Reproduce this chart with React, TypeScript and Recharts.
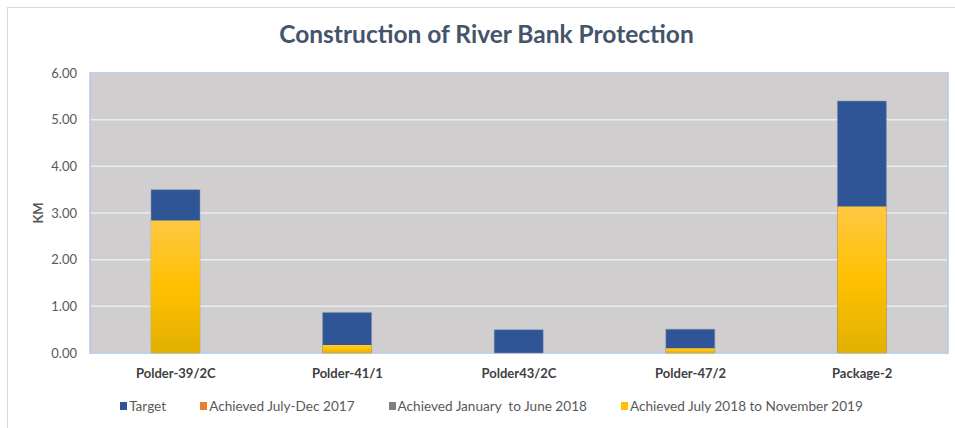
import { BarChart, Bar, XAxis, YAxis, CartesianGrid, Legend, ReferenceArea } from 'recharts';

const categories = ['Polder-39/2C', 'Polder-41/1', 'Polder43/2C', 'Polder-47/2', 'Package-2'];
const target = [3.5, 0.87, 0.5, 0.51, 5.4];
const achievedJulDec2017 = [0, 0, 0, 0, 0];
const achievedJanJun2018 = [0, 0, 0, 0, 0];
const achievedJul2018Nov2019 = [2.84, 0.17, 0, 0.1, 3.14];
const yTicks = [0, 1, 2, 3, 4, 5, 6];

const SERIES = [
  { key: 'target', name: 'Target', color: '#2f5597', fill: '#2f5597' },
  { key: 'a2017', name: 'Achieved July-Dec 2017', color: '#ed7d31', fill: '#ed7d31' },
  { key: 'a2018', name: 'Achieved January  to June 2018', color: '#7f7f7f', fill: '#7f7f7f' },
  { key: 'a2019', name: 'Achieved July 2018 to November 2019', color: '#ffc000', fill: 'url(#yellowGrad)' },
];

const data = categories.map((name, i) => ({
  name,
  target: target[i],
  a2017: achievedJulDec2017[i],
  a2018: achievedJanJun2018[i],
  a2019: achievedJul2018Nov2019[i],
}));

const FONT = 'Lato, "Open Sans", sans-serif';

function LegendContent() {
  return (
    <div style={{ display: 'flex', justifyContent: 'center', gap: 34, fontFamily: FONT, fontSize: 13.6, color: '#595959' }}>
      {SERIES.map((s) => (
        <div key={s.key} style={{ display: 'flex', alignItems: 'center', whiteSpace: 'pre' }}>
          <span style={{ display: 'inline-block', width: 7, height: 8, background: s.color, marginRight: 2 }} />
          {s.name}
        </div>
      ))}
    </div>
  );
}

export default function App() {
  return (
    <div style={{ position: 'absolute', left: 0, top: 0, width: 955, height: 428, background: '#fff', overflow: 'hidden' }}>
      <div style={{ position: 'absolute', left: 7, top: 7, width: 980, height: 440, border: '1px solid #d9d9d9' }} />
      <div
        style={{
          position: 'absolute',
          left: 0,
          top: 19,
          width: 973,
          textAlign: 'center',
          fontFamily: FONT,
          fontWeight: 700,
          fontSize: 24.5,
          color: '#44546a',
        }}
      >
        Construction of River Bank Protection
      </div>
      <div style={{ position: 'absolute', left: 0, top: 0 }}>
        <BarChart
          width={955}
          height={428}
          data={data}
          margin={{ top: 73, right: 7, bottom: 45, left: 30 }}
          barSize={49}
          barGap={-49}
        >
          <defs>
            <linearGradient id="yellowGrad" x1="0" y1="0" x2="0" y2="1">
              <stop offset="0%" stopColor="#ffc843" />
              <stop offset="50%" stopColor="#ffc000" />
              <stop offset="100%" stopColor="#e2b000" />
            </linearGradient>
          </defs>
          <CartesianGrid vertical={false} stroke="#ececec" fill="#d0cece" strokeWidth={1.5} />
          <ReferenceArea y1={0} y2={6} fill="none" stroke="#b4c7e7" strokeWidth={1.5} ifOverflow="visible" />
          <XAxis
            dataKey="name"
            height={30}
            axisLine={false}
            tickLine={false}
            tickMargin={10}
            tick={{ fontFamily: FONT, fontSize: 13, fontWeight: 700, fill: '#404040' }}
          />
          <YAxis
            width={60}
            domain={[0, 6]}
            ticks={yTicks}
            tickFormatter={(v: number) => v.toFixed(2)}
            axisLine={false}
            tickLine={false}
            tickSize={0}
            tickMargin={13}
            tick={{ fontFamily: FONT, fontSize: 13, fill: '#595959' }}
            label={{
              value: 'KM',
              angle: -90,
              position: 'insideLeft',
              offset: 8,
              style: { fontFamily: FONT, fontSize: 13, fontWeight: 700, fill: '#595959', textAnchor: 'middle' },
            }}
          />
          <Legend
            layout="horizontal"
            verticalAlign="middle"
            align="center"
            wrapperStyle={{ top: 398, left: 0, width: 983 }}
            content={() => <LegendContent />}
          />
          {SERIES.map((s) => (
            <Bar
              key={s.key}
              dataKey={s.key}
              name={s.name}
              fill={s.fill}
              stroke={s.key === 'target' ? '#8497b0' : 'none'}
              strokeWidth={0.5}
              isAnimationActive={false}
            />
          ))}
        </BarChart>
      </div>
    </div>
  );
}
